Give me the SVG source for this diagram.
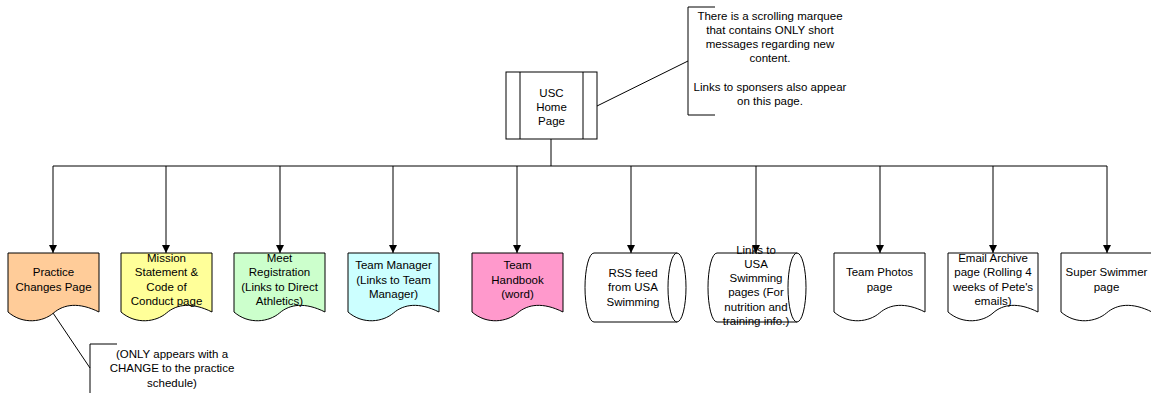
<svg xmlns="http://www.w3.org/2000/svg" width="1151" height="393" viewBox="0 0 1151 393">
<style>
text{font-family:"Liberation Sans",Arial,sans-serif;font-size:11.5px;fill:#000;text-anchor:middle}
.s{stroke:#000;stroke-width:1;fill:none}
.b{stroke:#000;stroke-width:1}
.w{fill:#fff}
</style>
<defs>
<marker id="ah" markerUnits="userSpaceOnUse" markerWidth="9" markerHeight="9" refX="8" refY="4" orient="auto">
<path d="M0,0 L8,4 L0,8 Z" fill="#000"/>
</marker>
</defs>
<rect width="1151" height="393" fill="#fff"/>

<g id="connectors" class="s">
<line x1="551" y1="139" x2="551" y2="166"/>
<line x1="53" y1="166" x2="1107" y2="166"/>
<line x1="53" y1="166" x2="53" y2="253" marker-end="url(#ah)"/>
<line x1="166" y1="166" x2="166" y2="253" marker-end="url(#ah)"/>
<line x1="280" y1="166" x2="280" y2="253" marker-end="url(#ah)"/>
<line x1="393" y1="166" x2="393" y2="253" marker-end="url(#ah)"/>
<line x1="517" y1="166" x2="517" y2="253" marker-end="url(#ah)"/>
<line x1="631" y1="166" x2="631" y2="253" marker-end="url(#ah)"/>
<line x1="880" y1="166" x2="880" y2="253" marker-end="url(#ah)"/>
<line x1="993" y1="166" x2="993" y2="253" marker-end="url(#ah)"/>
<line x1="1107" y1="166" x2="1107" y2="253" marker-end="url(#ah)"/>
<line x1="597" y1="106" x2="688" y2="61"/>
<line x1="53" y1="313" x2="90" y2="368"/>
</g>

<g id="home">
<rect x="506" y="72" width="91" height="67" class="b w"/>
<line x1="520" y1="72" x2="520" y2="139" class="s"/>
<line x1="583" y1="72" x2="583" y2="139" class="s"/>
<text x="551.5"><tspan x="551.5" y="96.5">USC</tspan><tspan x="551.5" y="110.8">Home</tspan><tspan x="551.5" y="125.1">Page</tspan></text>
</g>

<g id="note-top">
<path d="M715,7 H688 V115 H715" class="s"/>
<text><tspan x="770" y="19.5">There is a scrolling marquee</tspan><tspan x="770" y="33.8">that contains ONLY short</tspan><tspan x="770" y="48.1">messages regarding new</tspan><tspan x="770" y="62.4">content.</tspan><tspan x="770" y="91">Links to sponsers also appear</tspan><tspan x="770" y="105.3">on this page.</tspan></text>
</g>

<g id="practice">
<path d="M8,253 H99 V312 C79,302 64,304 53.5,313 S23,325 8,312 Z" class="b" fill="#FFCC99"/>
<text><tspan x="53.5" y="276.3">Practice</tspan><tspan x="53.5" y="290.6">Changes Page</tspan></text>
</g>

<g id="mission">
<path d="M121,253 H212 V312 C192,302 177,304 166.5,313 S136,325 121,312 Z" class="b" fill="#FFFF99"/>
<text><tspan x="166.5" y="262">Mission</tspan><tspan x="166.5" y="276.3">Statement &amp;</tspan><tspan x="166.5" y="290.6">Code of</tspan><tspan x="166.5" y="304.9">Conduct page</tspan></text>
</g>

<g id="meet">
<path d="M234,253 H325 V312 C305,302 290,304 279.5,313 S249,325 234,312 Z" class="b" fill="#CCFFCC"/>
<text><tspan x="279.5" y="262">Meet</tspan><tspan x="279.5" y="276.3">Registration</tspan><tspan x="279.5" y="290.6">(Links to Direct</tspan><tspan x="279.5" y="304.9">Athletics)</tspan></text>
</g>

<g id="team-manager">
<path d="M348,253 H439 V312 C419,302 404,304 393.5,313 S363,325 348,312 Z" class="b" fill="#CCFFFF"/>
<text><tspan x="393.5" y="269.2">Team Manager</tspan><tspan x="393.5" y="283.5">(Links to Team</tspan><tspan x="393.5" y="297.8">Manager)</tspan></text>
</g>

<g id="team-handbook">
<path d="M472,253 H563 V312 C543,302 528,304 517.5,313 S487,325 472,312 Z" class="b" fill="#FF99CC"/>
<text><tspan x="517.5" y="269.2">Team</tspan><tspan x="517.5" y="283.5">Handbook</tspan><tspan x="517.5" y="297.8">(word)</tspan></text>
</g>

<g id="rss">
<path d="M594,253 H677 V322 H594 A9,34.5 0 0 1 594,253 Z" class="b w"/>
<ellipse cx="677" cy="287.5" rx="9" ry="34.5" class="b w"/>
<text><tspan x="633" y="277">RSS feed</tspan><tspan x="633" y="291.3">from USA</tspan><tspan x="633" y="305.6">Swimming</tspan></text>
</g>

<g id="usa-links">
<path d="M717,253 H797 V322 H717 A9,34.5 0 0 1 717,253 Z" class="b w"/>
<ellipse cx="797" cy="287.5" rx="9" ry="34.5" class="b w"/>
<text><tspan x="756" y="253.5">Links to</tspan><tspan x="756" y="267.8">USA</tspan><tspan x="756" y="282.1">Swimming</tspan><tspan x="756" y="296.4">pages (For</tspan><tspan x="756" y="310.7">nutrition and</tspan><tspan x="756" y="325">training info.)</tspan></text>
</g>
<line x1="756" y1="166" x2="756" y2="253" class="s" marker-end="url(#ah)"/>

<g id="team-photos">
<path d="M834,253 H925 V312 C905,302 890,304 879.5,313 S849,325 834,312 Z" class="b w"/>
<text><tspan x="879.5" y="276.3">Team Photos</tspan><tspan x="879.5" y="290.6">page</tspan></text>
</g>

<g id="email-archive">
<path d="M948,253 H1038 V312 C1018,302 1003,304 993,313 S963,325 948,312 Z" class="b w"/>
<text><tspan x="993" y="262">Email Archive</tspan><tspan x="993" y="276.3">page (Rolling 4</tspan><tspan x="993" y="290.6">weeks of Pete's</tspan><tspan x="993" y="304.9">emails)</tspan></text>
</g>

<g id="super-swimmer">
<path d="M1061,253 H1152 V312 C1132,302 1117,304 1106.5,313 S1076,325 1061,312 Z" class="b w"/>
<text><tspan x="1106.5" y="276.3">Super Swimmer</tspan><tspan x="1106.5" y="290.6">page</tspan></text>
</g>

<g id="note-bottom">
<path d="M117,344 H90 V394" class="s"/>
<text><tspan x="172" y="358">(ONLY appears with a</tspan><tspan x="172" y="372.3">CHANGE to the practice</tspan><tspan x="172" y="386.6">schedule)</tspan></text>
</g>
</svg>
